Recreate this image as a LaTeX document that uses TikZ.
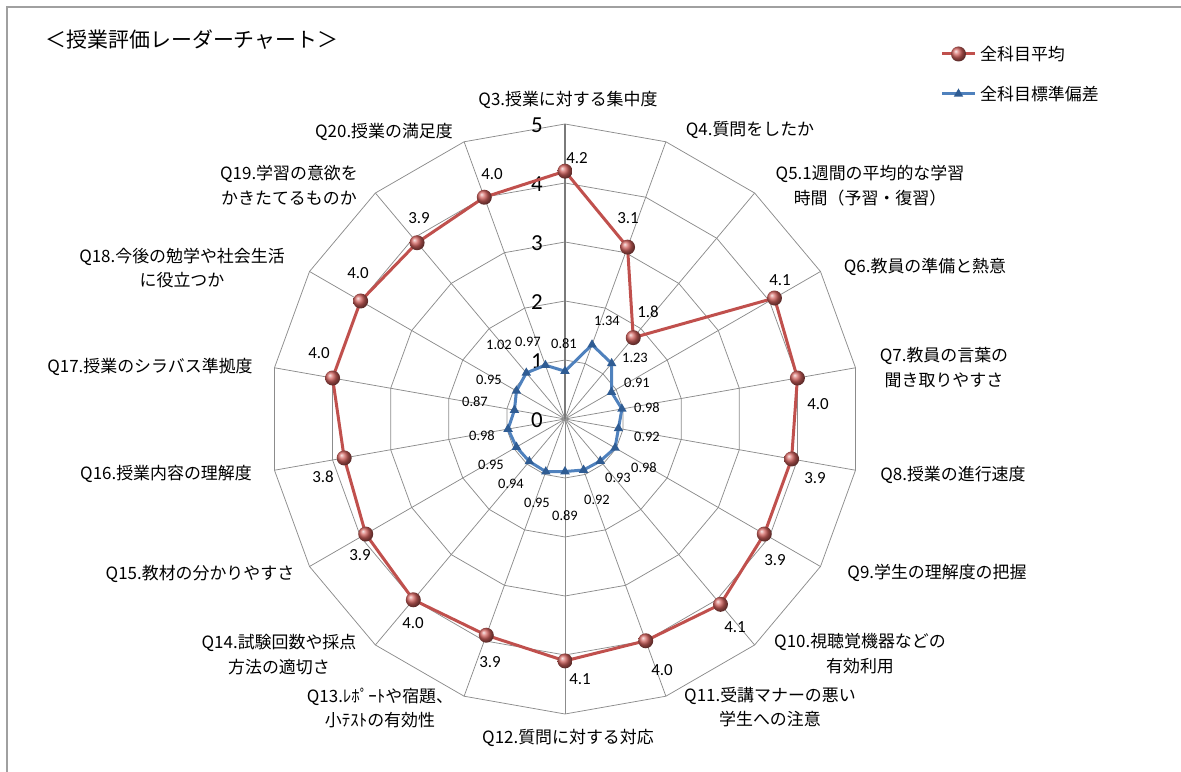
\documentclass[tikz,border=0pt]{standalone}
\usepackage{fontspec}
\usepackage{tikz}
\usetikzlibrary{shapes.geometric}
\newfontfamily\jpfont{Noto Sans CJK JP}
\newfontfamily\numfont{Carlito}
\definecolor{gridc}{HTML}{8C8C8C}
\definecolor{axisc}{HTML}{7A7A7A}
\definecolor{framec}{HTML}{A0A0A0}
\definecolor{meanc}{HTML}{C0504D}
\definecolor{dotc}{HTML}{D0605C}
\definecolor{sdc}{HTML}{4F81BD}
\definecolor{sdmk}{HTML}{2F5C93}
\tikzset{
  gridline/.style={draw=gridc, line width=0.75bp},
  axisline/.style={draw=axisc, line width=1.5bp},
  meanline/.style={draw=meanc, line width=3bp, line join=round},
  sdline/.style={draw=sdc, line width=3bp, line join=round},
  meandot/.style={circle, inner sep=0pt, minimum size=15bp, shading=ball, ball color=dotc},
  sdmark/.style={regular polygon, regular polygon sides=3, inner sep=0pt, minimum size=11bp, fill=sdmk},
  qlbl/.style={font=\jpfont\fontsize{17}{25}\selectfont, align=center, inner sep=0pt},
  titlelbl/.style={font=\jpfont\fontsize{21}{24}\selectfont, inner sep=0pt},
  keylbl/.style={font=\jpfont\fontsize{17}{20}\selectfont, anchor=west, inner sep=0pt},
  vlbl/.style={font=\numfont\fontsize{17}{20}\selectfont, inner sep=0pt},
  sdlbl/.style={font=\numfont\fontsize{14.5}{17}\selectfont, inner sep=0pt},
  scalelbl/.style={font=\numfont\fontsize{23}{26}\selectfont, inner sep=0pt}
}

\begin{document}
\begin{tikzpicture}[x=1bp, y=1bp]
  \useasboundingbox (-565,-353) rectangle (616,419);
  \draw[framec, line width=1.5bp] (-558,-353) -- (-558,412) -- (616,412);

  % grid: rings and spokes
  \foreach \r in {1,...,5}
    \draw[gridline] (90:{\r*59}) \foreach \k in {1,...,17}{ -- ({90-20*\k}:{\r*59}) } -- cycle;
  \foreach \k in {0,...,17}
    \draw[gridline] (0,0) -- ({90-20*\k}:295);
  \draw[axisline] (0,0) -- (90:295);
  \foreach \v in {0,...,5}
    \node[scalelbl] (ax\v) at (-28,{\v*59-1}) {\v};

  % data
  \foreach \q/\m/\s in {3/4.2/0.81, 4/3.1/1.34, 5/1.8/1.23, 6/4.1/0.91, 7/4.0/0.98,
      8/3.9/0.92, 9/3.9/0.98, 10/4.1/0.93, 11/4.0/0.92, 12/4.1/0.89, 13/3.9/0.95,
      14/4.0/0.94, 15/3.9/0.95, 16/3.8/0.98, 17/4.0/0.87, 18/4.0/0.95, 19/3.9/1.02, 20/4.0/0.97}{
    \coordinate (m\q) at ({90-20*(\q-3)}:{\m*59});
    \coordinate (s\q) at ({90-20*(\q-3)}:{\s*59});
  }
  \draw[sdline] (s3) \foreach \q in {4,...,20}{ -- (s\q) } -- cycle;
  \foreach \q in {3,...,20}
    \node[sdmark] (sm\q) at (s\q) {};
  \draw[meanline] (m3) \foreach \q in {4,...,20}{ -- (m\q) } -- cycle;
  \foreach \q in {3,...,20}
    \node[meandot] (md\q) at (m\q) {};

  % value labels
  \foreach \q/\x/\y/\t in {3/12/261/4.2, 4/63/201/3.1, 5/83/107/1.8, 6/215/139/4.1,
      7/253/15/4.0, 8/250/-59/3.9, 9/210/-141/3.9, 10/170/-208/4.1, 11/97/-251/4.0,
      12/15/-260/4.1, 13/-75/-243/3.9, 14/-152/-204/4.0, 15/-205/-136/3.9,
      16/-242/-58/3.8, 17/-246/66/4.0, 18/-207/146/4.0, 19/-146/201/3.9, 20/-73/245/4.0}
    \node[vlbl] (mv\q) at (\x,\y) {\t};
  \foreach \q/\x/\y/\t in {3/-1/75/0.81, 4/42/98/1.34, 5/70/61/1.23, 6/72/36/0.91,
      7/82/11/0.98, 8/82/-18/0.92, 9/79/-49/0.98, 10/53/-59/0.93, 11/32/-81/0.92,
      12/0/-97/0.89, 13/-28/-84/0.95, 14/-54/-65/0.94, 15/-74/-46/0.95,
      16/-83/-17/0.98, 17/-90/17/0.87, 18/-76/39/0.95, 19/-66/74/1.02, 20/-37/77/0.97}
    \node[sdlbl] (sv\q) at (\x,\y) {\t};

  % question labels
  \node[qlbl] (q3) at (3,319) {Q3.授業に対する集中度};
  \node[qlbl] (q4) at (185,289) {Q4.質問をしたか};
  \node[qlbl] (q5) at (305,233) {Q5.1週間の平均的な学習\\時間（予習・復習）};
  \node[qlbl] (q6) at (360,152) {Q6.教員の準備と熱意};
  \node[qlbl] (q7) at (379,51) {Q7.教員の言葉の\\聞き取りやすさ};
  \node[qlbl] (q8) at (388,-56) {Q8.授業の進行速度};
  \node[qlbl] (q9) at (372,-154) {Q9.学生の理解度の把握};
  \node[qlbl] (q10) at (295,-235) {Q10.視聴覚機器などの\\有効利用};
  \node[qlbl] (q11) at (205,-288) {Q11.受講マナーの悪い\\学生への注意};
  \node[qlbl] (q12) at (3,-319) {Q12.質問に対する対応};
  \node[qlbl] (q13) at (-185,-289) {Q13.ﾚﾎﾟｰﾄや宿題、\\小ﾃｽﾄの有効性};
  \node[qlbl] (q14) at (-286,-236) {Q14.試験回数や採点\\方法の適切さ};
  \node[qlbl] (q15) at (-365,-155) {Q15.教材の分かりやすさ};
  \node[qlbl] (q16) at (-399,-55) {Q16.授業内容の理解度};
  \node[qlbl] (q17) at (-415,52) {Q17.授業のシラバス準拠度};
  \node[qlbl] (q18) at (-383,151) {Q18.今後の勉学や社会生活\\に役立つか};
  \node[qlbl] (q19) at (-276,234) {Q19.学習の意欲を\\かきたてるものか};
  \node[qlbl] (q20) at (-181,287) {Q20.授業の満足度};

  % title and legend
  \node[titlelbl] (title) at (-373,379) {＜授業評価レーダーチャート＞};
  \coordinate (ka1) at (377,365);
  \coordinate (ka2) at (410,365);
  \coordinate (kb1) at (377,325);
  \coordinate (kb2) at (410,325);
  \draw[meanline] (ka1) -- (ka2);
  \node[meandot] (kadot) at (393.5,365) {};
  \node[keylbl] (katext) at (415,365) {全科目平均};
  \draw[sdline] (kb1) -- (kb2);
  \node[sdmark] (kbmark) at (393.5,325) {};
  \node[keylbl] (kbtext) at (415,325) {全科目標準偏差};
\end{tikzpicture}
\end{document}
